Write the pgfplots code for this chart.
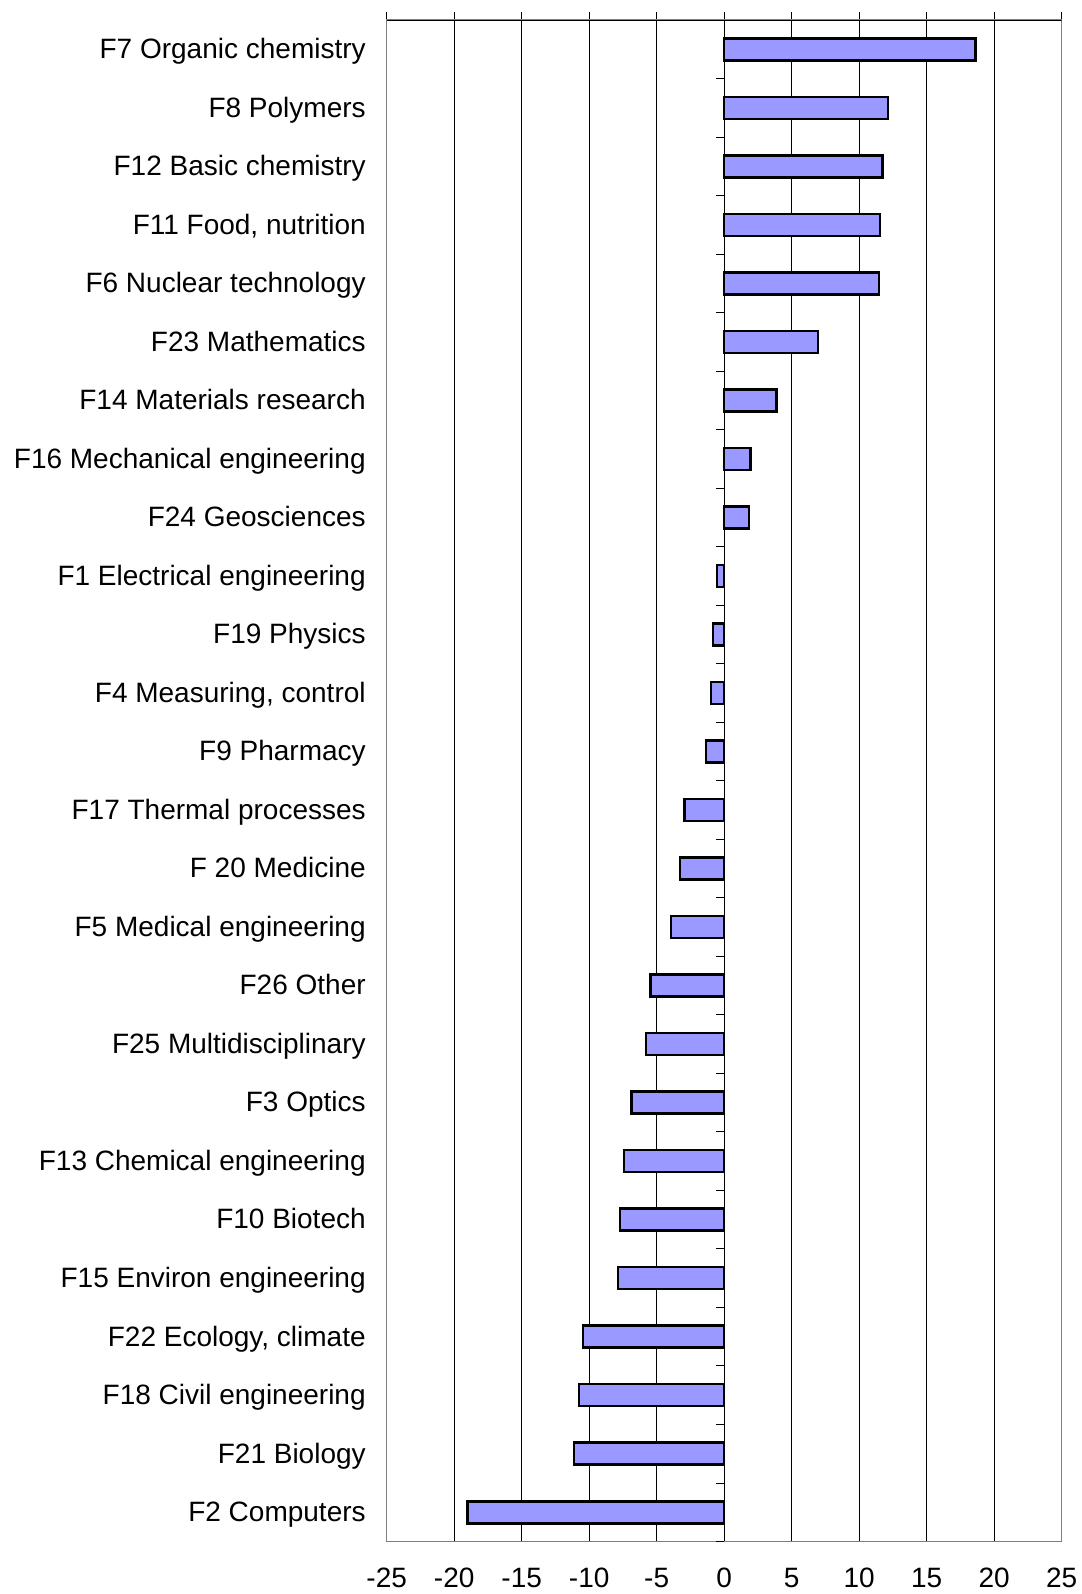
\documentclass[border=0pt]{standalone}
\usepackage{pgfplots}
\pgfplotsset{compat=1.18}
\usepackage{fontspec}
\setmainfont{Liberation Sans}
\definecolor{barfill}{HTML}{9999FF}
\definecolor{framegray}{HTML}{808080}
\begin{document}
\begin{tikzpicture}
\begin{axis}[
  scale only axis,
  width=337.5pt, height=760.75pt,
  xmin=-25, xmax=25, ymin=-0.5, ymax=25.5,
  y dir=reverse,
  xtick={-25,-20,...,25},
  xtick pos=upper, xticklabel pos=lower,
  tick align=outside,
  major tick length=4pt,
  x tick style={black, line width=0.5pt},
  ytick={0,...,25},
  ytick pos=left,
  y tick style={draw=none},
  yticklabels={F7 Organic chemistry, F8 Polymers, F12 Basic chemistry, {F11 Food, nutrition}, F6 Nuclear technology, F23 Mathematics, F14 Materials research, F16 Mechanical engineering, F24 Geosciences, F1 Electrical engineering, F19 Physics, {F4 Measuring, control}, F9 Pharmacy, F17 Thermal processes, F 20 Medicine, F5 Medical engineering, F26 Other, F25 Multidisciplinary, F3 Optics, F13 Chemical engineering, F10 Biotech, F15 Environ engineering, {F22 Ecology, climate}, F18 Civil engineering, F21 Biology, F2 Computers},
  /pgf/number format/assume math mode=true,
  tick label style={font=\fontsize{14}{16}\selectfont, inner sep=0pt},
  xticklabel style={anchor=base, yshift=-19pt},
  yticklabel style={anchor=base east, xshift=-6.3pt, yshift=-4.65pt},
  xmajorgrids,
  grid style={black, line width=0.5pt},
  axis line style={framegray, line width=0.75pt},
  xbar, bar width=11pt, bar shift=0pt,
]
\addplot[fill=barfill, draw=black, line width=1.25pt] coordinates {
(18.63,0) (12.12,1) (11.72,2) (11.54,3) (11.45,4) (6.94,5) (3.87,6) (1.93,7) (1.84,8)
(-0.54,9) (-0.84,10) (-0.97,11) (-1.36,12) (-2.95,13) (-3.27,14) (-3.94,15)
(-5.45,16) (-5.78,17) (-6.86,18) (-7.43,19) (-7.71,20) (-7.85,21)
(-10.45,22) (-10.74,23) (-11.11,24) (-19.03,25)
};
\draw[black, line width=0.75pt] (axis cs:-25,-0.5) -- (axis cs:25,-0.5);
\pgfplotsinvokeforeach{-0.5,0.5,...,25.5}{\draw[black, line width=0.5pt] (axis cs:0,#1) -- ++(-4.3pt,0pt);}
\end{axis}
\path[use as bounding box] (-193.35pt,-26.25pt) rectangle (347.15pt,770.75pt);
\end{tikzpicture}
\end{document}
